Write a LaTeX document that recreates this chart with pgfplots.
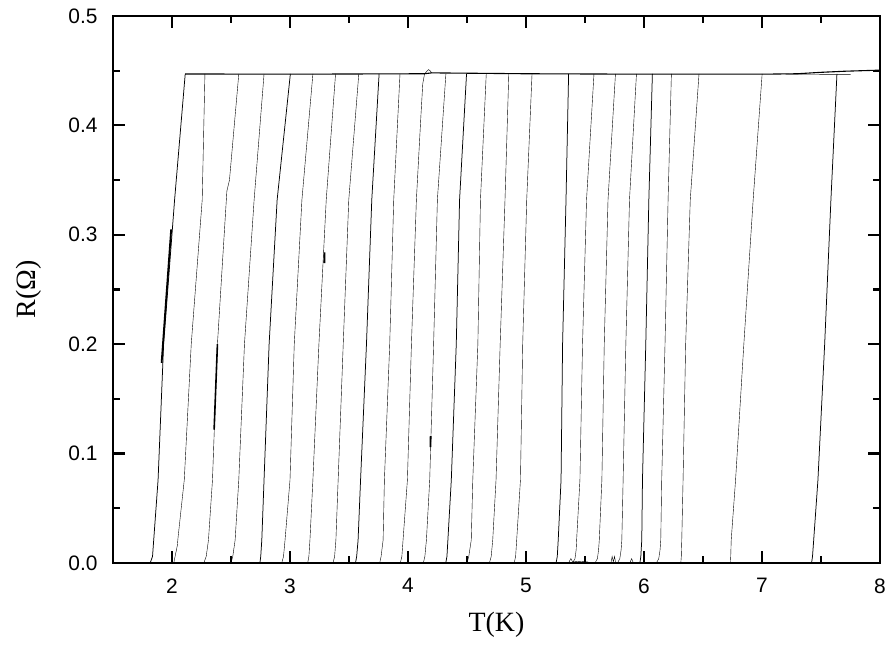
\documentclass[border=0pt]{standalone}
\usepackage{pgfplots}
\pgfplotsset{compat=1.18}
\usepackage{fontspec}
\setmainfont{Liberation Serif}
\newfontfamily\arial{Liberation Sans}
\begin{document}
\begin{tikzpicture}[x=1bp,y=1bp]
\path[use as bounding box] (0,0) rectangle (892,652);
\begin{axis}[
  at={(113bp,89bp)}, anchor=south west,
  width=767bp, height=547bp, scale only axis,
  xmin=1.5, xmax=8, ymin=0, ymax=0.5,
  xtick={2,3,4,5,6,7,8}, ytick={0,0.1,0.2,0.3,0.4,0.5},
  minor x tick num=1, minor y tick num=1,
  tick align=inside,
  major tick length=12bp, minor tick length=7bp,
  every tick/.style={black, line width=2.2bp},
  axis line style={line width=2.5bp},
  /pgf/number format/assume math mode=true,
  ticklabel style={font=\arial\fontsize{21}{24}\selectfont},
  xticklabel style={yshift=-12bp},
  yticklabel style={xshift=-12bp, /pgf/number format/fixed, /pgf/number format/fixed zerofill, /pgf/number format/precision=1},
  xlabel={T(K)}, ylabel={R(Ω)},
  xlabel style={yshift=-12bp},
  ylabel style={yshift=20bp},
  label style={font=\fontsize{28}{30}\selectfont},
  cycle list={{black, solid, line width=0.75bp, no marks}},
]
% plateau
\addplot+[line width=1.1bp] coordinates {(2.112,0.447)(3.0,0.4468)(4.14,0.4472)(4.20,0.448)(5.0,0.4472)(6.0,0.4468)(7.0,0.4468)(7.3,0.4472)(7.5,0.4485)(7.7,0.4495)(8.0,0.4505)};
\addplot coordinates {(7.2,0.4468)(7.75,0.4466)};
% curves
\addplot coordinates {(1.815,0)(1.835,0.006)(1.845,0.021)(1.882,0.076)(1.929,0.2)(2.022,0.332)(2.112,0.447)};
\addplot coordinates {(2.015,0)(2.03,0.008)(2.045,0.016)(2.052,0.024)(2.104,0.076)(2.163,0.2)(2.256,0.332)(2.279,0.447)};
\addplot coordinates {(2.27,0)(2.29,0.006)(2.309,0.021)(2.343,0.076)(2.385,0.2)(2.465,0.34)(2.487,0.35)(2.566,0.447)};
\addplot coordinates {(2.50,0)(2.515,0.006)(2.535,0.021)(2.566,0.076)(2.614,0.2)(2.696,0.332)(2.780,0.447)};
\addplot coordinates {(2.745,0)(2.752,0.006)(2.761,0.021)(2.780,0.076)(2.823,0.2)(2.891,0.332)(3.003,0.447)};
\addplot coordinates {(2.93,0)(2.945,0.006)(2.958,0.021)(3.000,0.076)(3.036,0.2)(3.101,0.332)(3.194,0.447)};
\addplot coordinates {(3.15,0)(3.16,0.006)(3.169,0.021)(3.194,0.076)(3.245,0.2)(3.307,0.332)(3.386,0.447)};
\addplot coordinates {(3.365,0)(3.378,0.006)(3.389,0.021)(3.408,0.076)(3.451,0.2)(3.498,0.332)(3.583,0.447)};
\addplot coordinates {(3.555,0)(3.565,0.006)(3.577,0.021)(3.598,0.076)(3.648,0.2)(3.693,0.332)(3.755,0.447)};
\addplot coordinates {(3.76,0)(3.772,0.006)(3.789,0.021)(3.800,0.076)(3.845,0.2)(3.879,0.332)(3.932,0.447)};
\addplot coordinates {(3.935,0)(3.948,0.006)(3.958,0.021)(3.995,0.076)(4.029,0.2)(4.071,0.332)(4.11,0.41)(4.125,0.438)(4.14,0.447)(4.16,0.4495)(4.175,0.451)(4.19,0.4497)(4.20,0.448)};
\addplot coordinates {(4.13,0)(4.143,0.006)(4.156,0.021)(4.184,0.076)(4.217,0.2)(4.249,0.332)(4.321,0.447)};
\addplot coordinates {(4.32,0)(4.33,0.006)(4.338,0.021)(4.367,0.076)(4.409,0.2)(4.437,0.332)(4.496,0.447)};
\addplot coordinates {(4.50,0)(4.515,0.006)(4.536,0.021)(4.549,0.076)(4.592,0.2)(4.614,0.332)(4.663,0.447)};
\addplot coordinates {(4.69,0)(4.705,0.006)(4.718,0.021)(4.746,0.076)(4.781,0.2)(4.822,0.332)(4.854,0.447)};
\addplot coordinates {(4.90,0)(4.912,0.006)(4.921,0.021)(4.953,0.076)(4.972,0.2)(5.006,0.332)(5.051,0.447)};
\addplot coordinates {(5.255,0)(5.265,0.006)(5.273,0.021)(5.297,0.076)(5.310,0.2)(5.339,0.332)(5.361,0.447)};
\addplot coordinates {(5.395,0)(5.415,0.004)(5.425,0.012)(5.429,0.021)(5.457,0.076)(5.479,0.2)(5.513,0.332)(5.576,0.447)};
\addplot coordinates {(5.585,0)(5.605,0.004)(5.615,0.012)(5.621,0.021)(5.643,0.076)(5.663,0.2)(5.695,0.332)(5.758,0.447)};
\addplot coordinates {(5.775,0)(5.795,0.004)(5.806,0.012)(5.812,0.021)(5.823,0.076)(5.846,0.2)(5.877,0.332)(5.936,0.447)};
\addplot coordinates {(5.965,0)(5.973,0.006)(5.981,0.021)(5.987,0.076)(6.015,0.2)(6.041,0.332)(6.071,0.447)};
\addplot coordinates {(6.105,0)(6.125,0.004)(6.136,0.012)(6.142,0.021)(6.150,0.076)(6.178,0.2)(6.204,0.332)(6.232,0.447)};
\addplot coordinates {(6.312,0)(6.316,0.006)(6.320,0.021)(6.331,0.076)(6.353,0.2)(6.392,0.332)(6.466,0.447)};
\addplot coordinates {(6.732,0)(6.735,0.006)(6.739,0.021)(6.776,0.076)(6.846,0.2)(6.925,0.332)(7.001,0.447)};
\addplot coordinates {(7.42,0)(7.428,0.006)(7.438,0.021)(7.474,0.076)(7.531,0.2)(7.584,0.332)(7.635,0.447)};
% small artefacts
\addplot+[line width=1.8bp] coordinates {(1.912,0.183)(1.993,0.305)};
\addplot+[line width=1.6bp] coordinates {(2.357,0.122)(2.385,0.2)};
\addplot+[line width=1.8bp] coordinates {(3.291,0.274)(3.293,0.284)};
\addplot+[line width=1.8bp] coordinates {(4.19,0.106)(4.192,0.116)};
\addplot coordinates {(5.36,0)(5.38,0.004)(5.395,0.001)(5.45,0.0015)(5.52,0.001)(5.55,0)};
\addplot coordinates {(5.72,0)(5.73,0.006)(5.74,0.001)(5.75,0.006)(5.76,0)};
\addplot coordinates {(5.88,0)(5.895,0.004)(5.91,0)};
\end{axis}
\end{tikzpicture}
\end{document}
